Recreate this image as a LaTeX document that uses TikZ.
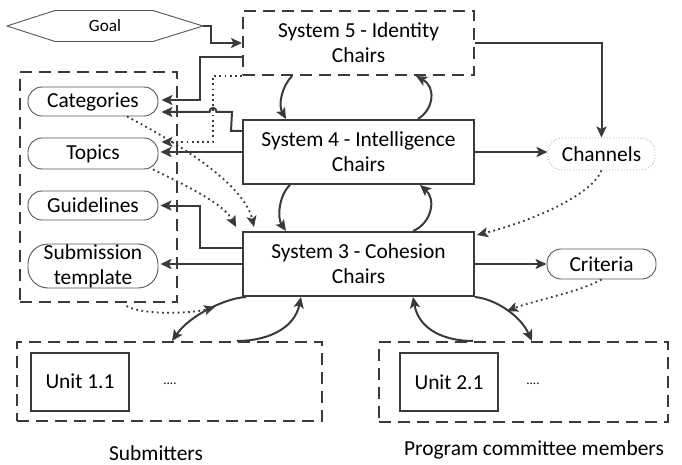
\documentclass[tikz,border=0pt]{standalone}
\usepackage{fontspec}
\setmainfont{Carlito}
\usetikzlibrary{arrows.meta,calc}
\definecolor{ink}{HTML}{3A3A3A}
\definecolor{bord}{HTML}{555555}
\begin{document}
\begin{tikzpicture}[x=1pt,y=-1pt,
  font=\fontsize{21.4}{25}\selectfont,
  tip/.style={-{Stealth[length=11pt,width=10pt,inset=2.5pt]}},
  sysbox/.style={draw=ink,line width=2pt,minimum width=231pt,minimum height=64pt,align=center,inner sep=0pt},
  dashbox/.style={draw=ink,line width=2pt,dash pattern=on 12pt off 7pt},
  pill/.style={draw=bord,line width=0.9pt,rounded corners=14pt,minimum width=130pt,align=center,inner sep=0pt},
  unitbox/.style={draw=ink,line width=2pt,minimum width=98pt,minimum height=58pt,inner sep=0pt},
  conn/.style={draw=ink,line width=2pt,tip},
  dotconn/.style={draw=ink,line width=1.8pt,dash pattern=on 1.8pt off 3.4pt,tip},
  smalltxt/.style={font=\fontsize{13}{15}\selectfont},
  grouplabel/.style={inner sep=0pt}
]
\useasboundingbox (0,0) rectangle (682,465);

% main systems
\node[sysbox,dashbox] (s5) at (358.5,43) {System 5 - Identity\\Chairs};
\node[sysbox] (s4) at (358.5,152) {System 4 - Intelligence\\Chairs};
\node[sysbox] (s3) at (358.5,264) {System 3 - Cohesion\\Chairs};

% left group
\node[dashbox,minimum width=157pt,minimum height=230pt] (group) at (98.5,187) {};
\node[pill,minimum height=29pt] (categories) at (93,101.5) {Categories};
\node[pill,minimum height=31pt] (topics) at (93,153.5) {Topics};
\node[pill,minimum height=29pt] (guidelines) at (93,205.5) {Guidelines};
\node[pill,minimum height=44pt,rounded corners=20pt] (submission) at (93,266) {Submission\\template};

% right side
\node[pill,draw=gray!60,dash pattern=on 1pt off 2pt,minimum width=107pt,minimum height=32pt] (channels) at (601.5,154) {Channels};
\node[pill,minimum width=109pt,minimum height=30pt] (criteria) at (601.5,264) {Criteria};

% bottom groups
\node[dashbox,minimum width=305pt,minimum height=79pt] (subm) at (169.5,381.5) {};
\node[unitbox] (u11) at (80,381.5) {Unit 1.1};
\node[smalltxt] (dots1) at (170,384) {....};
\node[dashbox,minimum width=289pt,minimum height=80pt] (pc) at (523.5,382) {};
\node[unitbox] (u21) at (449,382) {Unit 2.1};
\node[smalltxt] (dots2) at (533,384) {....};
\node[grouplabel] (lsub) at (156,453) {Submitters};
\node[grouplabel] (lpc) at (534,450) {Program committee members};

% goal hexagon
\node[font=\fontsize{17.2}{19}\selectfont] (goal) at (105,26) {Goal};
\draw[draw=bord,line width=0.9pt] ($(goal)+(-98,0)$) -- ($(goal)+(-50,-15.5)$) -- ($(goal)+(48,-15.5)$) -- ($(goal)+(98,0)$) -- ($(goal)+(48,15.5)$) -- ($(goal)+(-50,15.5)$) -- cycle;
\coordinate (goalR) at ($(goal)+(98,0)$);

% orthogonal connectors
\draw[conn] (goalR) -- ++(8,0) |- (s5.west);
\draw[conn] ($(s5.west)+(0,14)$) -| ($(categories.east)+(42,-1.5)$) -- ($(categories.east)+(3,-1.5)$);
\draw[conn] ($(s4.west)+(0,-21)$) -- ++(-11,0) -- (232,112) -- (216.5,112) .. controls (216.5,106.5) and (209.5,106.5) .. (209.5,112) -- ($(categories.east)+(3,10.5)$);
\draw[dotconn] (s5.south west) -| (213,142) -- ($(topics.east)+(3,-11.5)$);
\draw[conn] (s4.west) -- ($(s4.west -| topics.east)+(2,0)$);
\draw[conn] ($(s3.west)+(0,-16)$) -| ($(guidelines.east)+(42,0)$) -- ($(guidelines.east)+(2,0)$);
\draw[conn] (s3.west) -- ($(s3.west -| submission.east)+(2,0)$);
\draw[conn] (s5.east) -| (channels.north);
\draw[conn] (s4.east) -- (s4.east -| channels.west);
\draw[conn] (s3.east) -- (criteria.west);

% loops between systems
\draw[conn] ($(s5.south)+(-66.5,0)$) .. controls +(-10,10) and +(-8,-14) .. ($(s4.north)+(-72.5,0)$);
\draw[conn] ($(s4.north)+(59.5,0)$) .. controls +(16,-10) and +(20,11) .. ($(s5.south)+(57.5,0)$);
\draw[conn] ($(s4.south)+(-68.5,0)$) .. controls +(-11,10) and +(-9,-13) .. ($(s3.north)+(-72.5,0)$);
\draw[conn] ($(s3.north)+(54.5,0)$) .. controls +(19,-8) and +(16,14) .. ($(s4.south)+(61.5,0)$);

% to/from bottom groups
\coordinate (subTop1) at ($(subm.north)+(2.5,0)$);
\coordinate (subTop2) at ($(subm.north)+(67.5,0)$);
\coordinate (pcTop1) at ($(pc.north)+(8.5,0)$);
\coordinate (pcTop2) at ($(pc.north)+(-50.5,0)$);
\draw[conn] ($(s3.south west)+(4,0)$) .. controls +(-20,1) and +(18,-26) .. (subTop1);
\draw[conn] (subTop2) .. controls +(28,0) and +(-7,33) .. ($(s3.south west)+(59,0)$);
\draw[conn] (s3.south east) .. controls +(20,2) and +(-12,-26) .. (pcTop1);
\draw[conn] (pcTop2) .. controls +(-28,0) and +(6,33) .. ($(s3.south east)+(-62,0)$);

% dotted influences
\coordinate (critT) at (507,311);
\coordinate (subT) at (215,307);
\draw[dotconn] (channels.south) .. controls +(-10,25) and +(55,-14) .. ($(s3.north east)+(2,4)$);
\draw[dotconn] (criteria.south) .. controls +(-20,12) and +(25,-10) .. (critT);
\draw[dotconn] ($(group.south)+(28,3)$) .. controls +(18,10) and +(-20,6) .. (subT);
\draw[dotconn] ($(categories.south)+(34,0)$) .. controls +(53,28) and +(-10,-43) .. ($(s3.north west)+(12,-4)$);
\draw[dotconn] ($(topics.south)+(60,0)$) .. controls +(33,16) and +(-12,-23) .. ($(s3.north west)+(-6,-4)$);
\end{tikzpicture}
\end{document}
